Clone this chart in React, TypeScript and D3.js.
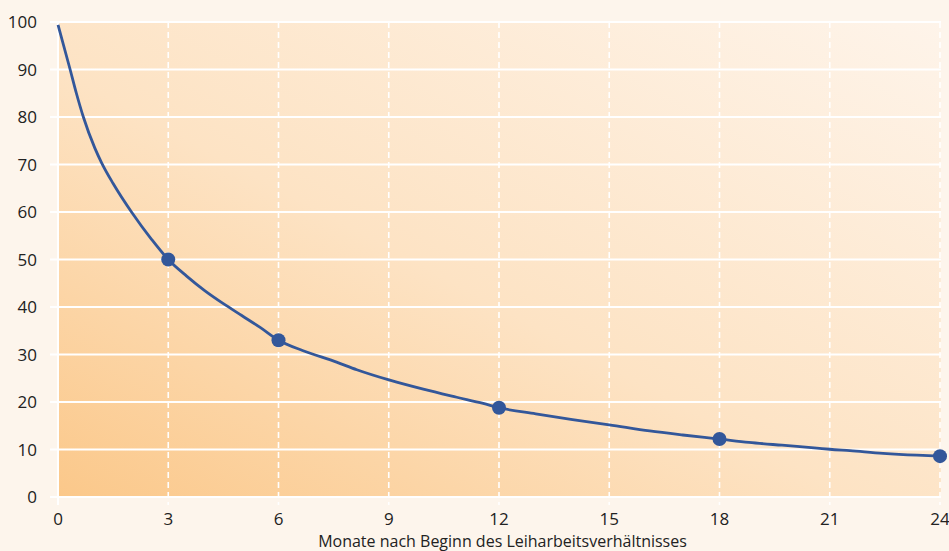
import React, { useEffect } from "react";
import * as d3 from "d3";

const months: number[] = [0, 0.33, 0.5, 0.69, 1, 1.19, 1.5, 2, 2.55, 3, 3.5, 4, 4.5, 5, 5.5, 6, 6.67, 7.58, 8.13, 9.03, 9.94, 10.85, 11.57, 12, 13, 14, 15, 16.1, 17, 18, 18.8, 19.7, 20.65, 21, 21.55, 22.45, 23.37, 24];
const shares: number[] = [99.4, 90, 85, 80, 73.5, 70.3, 66, 60, 54.2, 50, 46.5, 43.4, 40.7, 38.2, 35.7, 33, 30.8, 28.4, 26.8, 24.6, 22.7, 21, 19.7, 18.8, 17.5, 16.3, 15.2, 13.9, 13.05, 12.2, 11.5, 10.9, 10.3, 10.05, 9.75, 9.2, 8.8, 8.6];
const markerMonths: number[] = [3, 6, 12, 18, 24];
const markerShares: number[] = [50, 33, 18.8, 12.2, 8.6];
const xTicks: number[] = [0, 3, 6, 9, 12, 15, 18, 21, 24];
const yTicks: number[] = [0, 10, 20, 30, 40, 50, 60, 70, 80, 90, 100];
const xTitle = "Monate nach Beginn des Leiharbeitsverhältnisses";

const W = 949;
const H = 551;
const left = 58;
const right = 941;
const top = 22;
const bottom = 497;
const font = "'Open Sans', 'Noto Sans', sans-serif";

export default function App() {
  useEffect(() => {
    document.body.style.margin = "0";
    document.body.style.background = "#fdf5ec";
  }, []);
  const x = d3.scaleLinear().domain([0, 24]).range([left, right - 1]);
  const y = d3.scaleLinear().domain([0, 100]).range([bottom, top]);
  const line = d3
    .line<number>()
    .x((_, i) => x(months[i]))
    .y((d) => y(d))
    .curve(d3.curveMonotoneX);
  return (
    <svg width={W} height={H} style={{ display: "block", background: "#fdf5ec" }}>
      <defs>
        <linearGradient id="bg" x1="0" y1="1" x2="1" y2="0">
          <stop offset="0" stopColor="#fbc88a" />
          <stop offset="0.45" stopColor="#fde3c4" />
          <stop offset="1" stopColor="#fef4ea" />
        </linearGradient>
      </defs>
      <rect x={left} y={top} width={right - left} height={bottom - top} fill="url(#bg)" />
      {yTicks.map((t) => (
        <g key={"y" + t}>
          <line x1={50} x2={right} y1={y(t)} y2={y(t)} stroke="#fff" strokeWidth={2} />
          <text x={37} y={y(t)} dy="0.36em" textAnchor="end" fontFamily={font} fontSize={17} fill="#222">
            {t}
          </text>
        </g>
      ))}
      {xTicks.map((t) => (
        <g key={"x" + t}>
          <line
            x1={x(t)}
            x2={x(t)}
            y1={top}
            y2={505}
            stroke="#fff"
            strokeWidth={t === 0 ? 2 : 1.6}
            strokeDasharray={t === 0 ? undefined : "6,4"}
          />
          <text x={x(t)} y={525} textAnchor="middle" fontFamily={font} fontSize={17} fill="#222">
            {t}
          </text>
        </g>
      ))}
      <text x={(left + right) / 2 + 3} y={547} textAnchor="middle" fontFamily={font} fontSize={16} fill="#222">
        {xTitle}
      </text>
      <path d={line(shares) || ""} fill="none" stroke="#33579a" strokeWidth={2.8} strokeLinejoin="round" />
      {markerMonths.map((m, i) => (
        <circle key={"m" + m} cx={x(m)} cy={y(markerShares[i])} r={7} fill="#33579a" />
      ))}
    </svg>
  );
}
